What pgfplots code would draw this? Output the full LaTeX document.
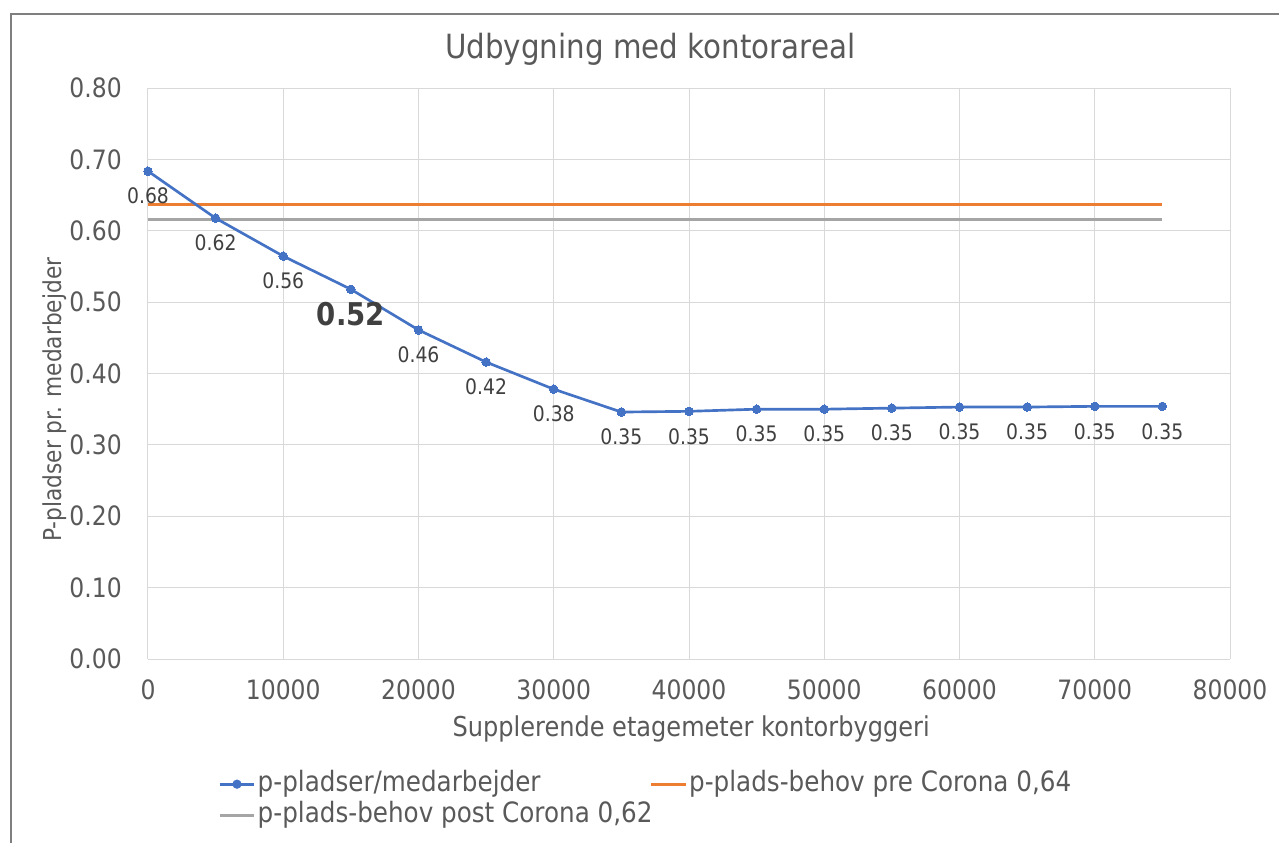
\documentclass[border=0pt]{standalone}
\usepackage{fontspec}
\setmainfont{DejaVu Sans}[FakeStretch=0.88]
\usepackage{pgfplots}
\pgfplotsset{compat=1.18}
\definecolor{exblue}{HTML}{4472C4}
\definecolor{exorange}{HTML}{ED7D31}
\definecolor{exgray}{HTML}{A5A5A5}
\definecolor{txt}{HTML}{595959}
\definecolor{lbl}{HTML}{404040}
\definecolor{gridc}{HTML}{D9D9D9}
\definecolor{framec}{HTML}{7F7F7F}
\begin{document}
\begin{tikzpicture}
\useasboundingbox (-111pt,-138pt) rectangle (848.25pt,494.25pt);
\draw[framec, line width=1.5pt] (-102.75pt,-150pt) -- (-102.75pt,483.75pt) -- (860pt,483.75pt);
\begin{axis}[
  scale only axis, width=811.5pt, height=428.25pt,
  xmin=0, xmax=80000, ymin=0, ymax=0.8,
  xtick={0,10000,...,80000}, ytick={0,0.1,...,0.8},
  scaled x ticks=false, scaled y ticks=false,
  grid=major, major grid style={draw=gridc, line width=0.75pt},
  axis line style={draw=none}, tick style={draw=none},
  clip=false,
  /pgf/number format/assume math mode=true,
  xticklabel style={/pgf/number format/set thousands separator={}, /pgf/number format/fixed, anchor=center, yshift=-23.25pt, inner sep=0pt, font=\fontsize{20}{24}\selectfont, text=txt},
  yticklabel style={/pgf/number format/fixed, /pgf/number format/fixed zerofill, /pgf/number format/precision=2, anchor=east, xshift=-19.5pt, inner sep=0pt, font=\fontsize{20}{24}\selectfont, text=txt},
  title={Udbygning med kontorareal},
  title style={at={(axis description cs:0.4640,1.0385)}, anchor=base, yshift=0pt, font=\fontsize{25}{30}\selectfont, text=txt, inner sep=0pt},
  xlabel={Supplerende etagemeter kontorbyggeri},
  xlabel style={at={(axis description cs:0.502,-0.1349)}, anchor=base, font=\fontsize{20.5}{24}\selectfont, text=txt, inner sep=0pt},
  ylabel={P-pladser pr. medarbejder},
  ylabel style={at={(axis description cs:-0.0795,0.454)}, anchor=base, font=\fontsize{18.5}{22}\selectfont, text=txt, inner sep=0pt},
  legend columns=2,
  legend cell align=left,
  legend style={at={(axis description cs:0.0647,-0.1960)}, anchor=north west, draw=none, fill=none, inner sep=0pt, row sep=4pt,
    font=\fontsize{21}{25}\selectfont,
    nodes={inner xsep=1.5pt, inner ysep=0pt, text height=15pt, text depth=4.5pt, text=txt}},
  legend image code/.code={\draw[mark repeat=2,mark phase=2,#1] plot coordinates {(0pt,0pt) (13pt,0pt) (26pt,0pt)};},
]
\addlegendimage{exblue, line width=2pt, mark=*, mark size=2.4pt, mark options={solid, fill=exblue, draw=exblue}}
\addlegendentry{\makebox[292.5pt][l]{p-pladser/medarbejder}}
\addplot[exorange, line width=2.1pt] coordinates {(0,0.637) (75000,0.637)};
\addlegendentry{p-plads-behov pre Corona 0,64}
\addplot[exgray, line width=2.1pt] coordinates {(0,0.616) (75000,0.616)};
\addlegendentry{\makebox[292.5pt][l]{p-plads-behov post Corona 0,62}}
\addplot[exblue, line width=2pt, mark=*, mark size=3.2pt, mark options={solid, fill=exblue, draw=exblue, line width=0pt}, forget plot,
  point meta=explicit symbolic, nodes near coords,
  every node near coord/.append style={anchor=center, yshift=-18.75pt, inner sep=0pt, font=\fontsize{16}{19}\selectfont, text=lbl}]
coordinates {
(0,0.6835)[0.68]
(5000,0.6176)[0.62]
(10000,0.5644)[0.56]
(15000,0.518)[{\raisebox{-4.5pt}{\fontsize{23.5}{28}\selectfont\bfseries 0.52}}]
(20000,0.461)[0.46]
(25000,0.416)[0.42]
(30000,0.378)[0.38]
(35000,0.346)[0.35]
(40000,0.347)[0.35]
(45000,0.350)[0.35]
(50000,0.350)[0.35]
(55000,0.3515)[0.35]
(60000,0.353)[0.35]
(65000,0.353)[0.35]
(70000,0.354)[0.35]
(75000,0.354)[0.35]
};
\end{axis}
\end{tikzpicture}
\end{document}
